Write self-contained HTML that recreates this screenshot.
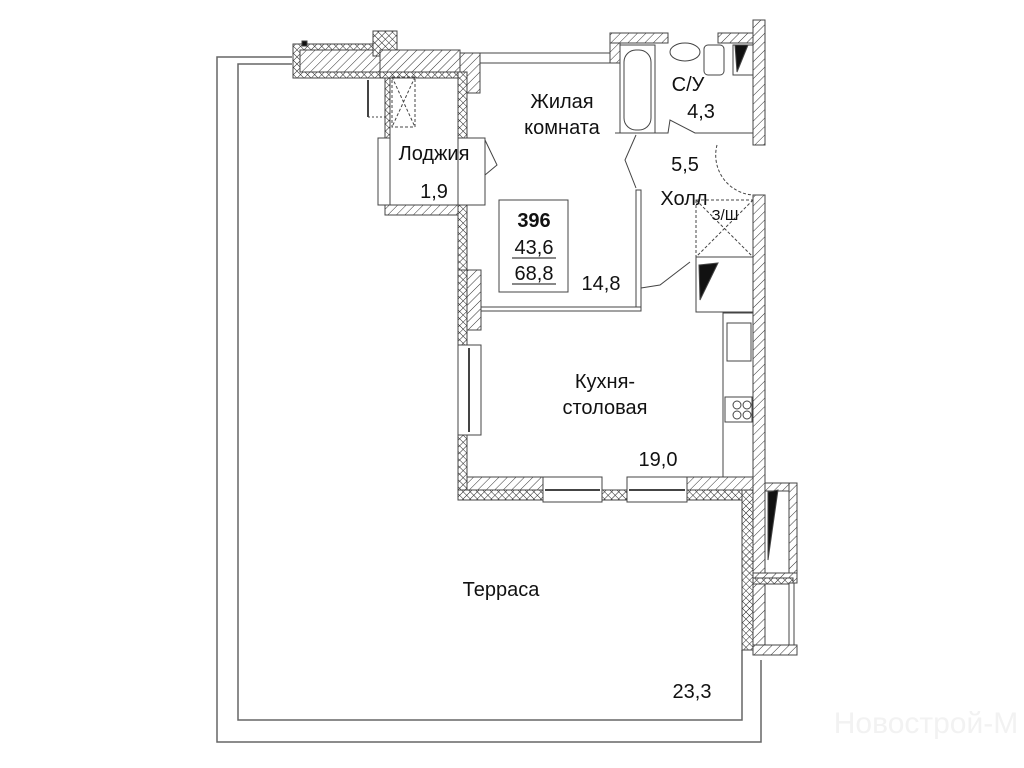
<!DOCTYPE html>
<html><head><meta charset="utf-8"><style>
html,body{margin:0;padding:0;background:#fff;}
svg{display:block}
text{font-family:"Liberation Sans",sans-serif;fill:#111}
</style></head><body>
<svg width="1024" height="768" viewBox="0 0 1024 768" xmlns="http://www.w3.org/2000/svg">
<defs>
<pattern id="h" width="6" height="6" patternUnits="userSpaceOnUse" patternTransform="rotate(45)">
<rect width="6" height="6" fill="#fff"/><line x1="0" y1="0" x2="0" y2="6" stroke="#333" stroke-width="1"/></pattern>
<pattern id="x" width="5" height="5" patternUnits="userSpaceOnUse" patternTransform="rotate(45)">
<rect width="5" height="5" fill="#fff"/><line x1="0" y1="0" x2="0" y2="5" stroke="#222" stroke-width="1"/><line x1="0" y1="0" x2="5" y2="0" stroke="#222" stroke-width="1"/></pattern>
</defs>
<g fill="none" stroke="#666" stroke-width="1.5">
<path d="M292 57 H217 V742 H761 V660"/>
<path d="M292 64 H238 V720 H742 V650"/>
</g>
<g stroke="#444" stroke-width="1">
<rect x="293" y="44" width="87" height="34" fill="url(#x)"/>
<rect x="300" y="50" width="80" height="22" fill="url(#h)"/>
<rect x="373" y="31" width="24" height="25" fill="url(#x)"/>
<rect x="380" y="50" width="80" height="28" fill="url(#h)"/>
<rect x="380" y="72" width="80" height="6" fill="url(#x)"/>
<rect x="460" y="53" width="20" height="40" fill="url(#h)"/>
<rect x="458" y="72" width="9" height="66" fill="url(#x)"/>
<rect x="302" y="41" width="5" height="5" fill="#111"/>
<rect x="480" y="53" width="132" height="10" fill="#fff"/>
<line x1="368" y1="80" x2="368" y2="117" stroke-width="2"/>
<path d="M368 117 H385" stroke-dasharray="2,2"/>
<rect x="385" y="78" width="5" height="60" fill="url(#x)"/>
<rect x="378" y="138" width="12" height="67" fill="#fff"/>
<rect x="385" y="205" width="73" height="10" fill="url(#h)"/>
<rect x="458" y="205" width="9" height="65" fill="url(#x)"/>
<rect x="458" y="138" width="27" height="67" fill="#fff"/>
<path d="M485 140 L497 165 L485 175" fill="none"/>
<rect x="392" y="77" width="23" height="50" fill="none" stroke-dasharray="3,2"/>
<path d="M392 77 L415 127 M415 77 L392 127" stroke-dasharray="3,2"/>
<rect x="458" y="270" width="9" height="75" fill="url(#x)"/>
<rect x="467" y="270" width="14" height="60" fill="url(#h)"/>
<rect x="458" y="345" width="23" height="90" fill="#fff"/>
<line x1="469" y1="348" x2="469" y2="432" stroke-width="2"/>
<rect x="458" y="435" width="9" height="65" fill="url(#x)"/>
<rect x="467" y="477" width="76" height="13" fill="url(#h)"/>
<rect x="458" y="490" width="85" height="10" fill="url(#x)"/>
<rect x="543" y="477" width="59" height="25" fill="#fff"/>
<line x1="545" y1="490" x2="600" y2="490" stroke-width="2"/>
<rect x="602" y="490" width="25" height="10" fill="url(#x)"/>
<rect x="627" y="477" width="60" height="25" fill="#fff"/>
<line x1="629" y1="490" x2="685" y2="490" stroke-width="2"/>
<rect x="687" y="477" width="66" height="13" fill="url(#h)"/>
<rect x="687" y="490" width="66" height="10" fill="url(#x)"/>
<rect x="742" y="490" width="11" height="160" fill="url(#x)"/>
<rect x="753" y="20" width="12" height="125" fill="url(#h)"/>
<rect x="753" y="195" width="12" height="455" fill="url(#h)"/>
<rect x="765" y="483" width="32" height="8" fill="url(#h)"/>
<rect x="789" y="483" width="8" height="100" fill="url(#h)"/>
<rect x="753" y="573" width="44" height="10" fill="url(#h)"/>
<rect x="753" y="578" width="40" height="6" fill="url(#x)"/>
<rect x="789" y="583" width="5" height="67" fill="#fff"/>
<rect x="753" y="645" width="44" height="10" fill="url(#h)"/>
<path d="M768 492 L778 490 L768 560 Z" fill="#111"/>
<rect x="610" y="33" width="58" height="10" fill="url(#h)"/>
<rect x="718" y="33" width="35" height="10" fill="url(#h)"/>
<rect x="610" y="43" width="10" height="20" fill="url(#h)"/>
<rect x="620" y="45" width="35" height="88" fill="#fff"/>
<rect x="624" y="50" width="27" height="80" rx="12" fill="#fff"/>
<ellipse cx="685" cy="52" rx="15" ry="9" fill="#fff"/>
<rect x="704" y="45" width="20" height="30" rx="4" fill="#fff"/>
<rect x="733" y="45" width="20" height="30" fill="#fff"/>
<path d="M735 45 L748 45 L737 72 Z" fill="#111"/>
<path d="M615 133 H668 L670 120 L695 133 H753" fill="none"/>
<rect x="636" y="190" width="5" height="120" fill="#fff"/>
<rect x="481" y="307" width="160" height="4" fill="#fff"/>
<path d="M636 135 L625 160 L636 188" fill="none"/>
<path d="M641 288 L660 285 L690 262" fill="none"/>
<path d="M717 145 A40 40 0 0 0 753 195" fill="none" stroke-dasharray="3,2"/>
<rect x="696" y="200" width="57" height="57" fill="none" stroke-dasharray="3,2"/>
<path d="M696 200 L753 257 M753 200 L696 257" stroke-dasharray="3,2"/>
<rect x="696" y="257" width="57" height="55" fill="#fff"/>
<path d="M699 265 L718 263 L700 300 Z" fill="#111"/>
<rect x="723" y="313" width="30" height="164" fill="#fff"/>
<rect x="727" y="323" width="24" height="38" fill="#fff"/>
<rect x="725" y="397" width="27" height="25" fill="#fff"/>
<circle cx="737" cy="405" r="4" fill="#fff"/><circle cx="747" cy="405" r="4" fill="#fff"/>
<circle cx="737" cy="415" r="4" fill="#fff"/><circle cx="747" cy="415" r="4" fill="#fff"/>
<rect x="499" y="200" width="69" height="92" fill="none"/>
</g>
<text x="534" y="227" font-size="20" font-weight="bold" text-anchor="middle">396</text>
<text x="534" y="254" font-size="20" text-anchor="middle">43,6</text>
<line x1="512" y1="258" x2="556" y2="258" stroke="#111"/>
<text x="534" y="280" font-size="20" text-anchor="middle">68,8</text>
<line x1="512" y1="284" x2="556" y2="284" stroke="#111"/>
<text x="562" y="108" font-size="20" text-anchor="middle">Жилая</text>
<text x="562" y="134" font-size="20" text-anchor="middle">комната</text>
<text x="601" y="290" font-size="20" text-anchor="middle">14,8</text>
<text x="434" y="160" font-size="20" text-anchor="middle">Лоджия</text>
<text x="434" y="198" font-size="20" text-anchor="middle">1,9</text>
<text x="688" y="91" font-size="20" text-anchor="middle">С/У</text>
<text x="701" y="118" font-size="20" text-anchor="middle">4,3</text>
<text x="685" y="171" font-size="20" text-anchor="middle">5,5</text>
<text x="684" y="205" font-size="20" text-anchor="middle">Холл</text>
<text x="725" y="220" font-size="15" text-anchor="middle">З/Ш</text>
<text x="605" y="388" font-size="20" text-anchor="middle">Кухня-</text>
<text x="605" y="414" font-size="20" text-anchor="middle">столовая</text>
<text x="658" y="466" font-size="20" text-anchor="middle">19,0</text>
<text x="501" y="596" font-size="20" text-anchor="middle">Терраса</text>
<text x="692" y="698" font-size="20" text-anchor="middle">23,3</text>
<text x="926" y="733" font-size="30" text-anchor="middle" style="fill:#f2f2f2">Новострой-М</text>
</svg>
</body></html>
